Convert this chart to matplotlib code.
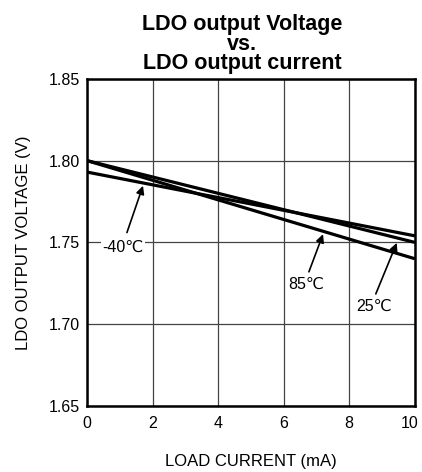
import matplotlib
matplotlib.use("Agg")
import matplotlib.pyplot as plt
import matplotlib.transforms as mtransforms
import numpy as np

plt.rcParams['font.family'] = ['Liberation Sans', 'DejaVu Sans']

# load current (mA) and output voltage (V) per temperature
current = [0, 10]
v_m40 = [1.793, 1.754]
v_25 = [1.800, 1.750]
v_85 = [1.800, 1.740]

labels = ['-40℃', '85℃', '25℃']
label_xy = [(1.1, 1.747), (6.7, 1.7246), (8.75, 1.7106)]
arrow_from = [(1.22, 1.756), (6.77, 1.732), (8.81, 1.7185)]
arrow_to = [(1.71, 1.7846), (7.2, 1.755), (9.45, 1.7497)]

fig = plt.figure(figsize=(4.22, 4.72), dpi=100)
ax = fig.add_axes([0.206, 0.140, 0.777, 0.693])

for v in (v_m40, v_25, v_85):
    ax.plot(current, v, color='black', lw=2.3, solid_capstyle='butt')

for lab, xy, p0, p1 in zip(labels, label_xy, arrow_from, arrow_to):
    ax.annotate('', xy=p1, xytext=p0,
                arrowprops=dict(arrowstyle='-|>', color='black', lw=1.2,
                                mutation_scale=12, shrinkA=0, shrinkB=0))
    ax.text(xy[0], xy[1], lab, ha='center', va='center', fontsize=11.5,
            bbox=dict(facecolor='white', edgecolor='none', pad=1))

ax.set_xlim(0, 10)
ax.set_ylim(1.65, 1.85)
ax.set_xticks(np.arange(0, 11, 2))
ax.set_yticks([1.65, 1.70, 1.75, 1.80, 1.85])
ax.set_yticklabels(['1.65', '1.70', '1.75', '1.80', '1.85'])
ax.grid(True, color='#444444', lw=0.9)
ax.set_axisbelow(True)
ax.tick_params(length=0, labelsize=11.5)
ax.tick_params(axis='x', pad=7)
ax.tick_params(axis='y', pad=5)
for s in ax.spines.values():
    s.set_linewidth(1.8)

# nudge the last x tick label so it stays inside the figure
last = ax.get_xticklabels()[-1]
last.set_transform(last.get_transform() +
                   mtransforms.ScaledTranslation(-4 / 72, 0, fig.dpi_scale_trans))

ax.set_xlabel('LOAD CURRENT (mA)', fontsize=12, labelpad=17)
ax.set_ylabel('LDO OUTPUT VOLTAGE (V)', fontsize=12, labelpad=13)
ax.set_title('LDO output Voltage\nvs.\nLDO output current', fontsize=15.5,
             fontweight='bold', linespacing=0.9, pad=7)
ax.title.set_x(0.473)

fig.savefig('out.png', dpi=100)
